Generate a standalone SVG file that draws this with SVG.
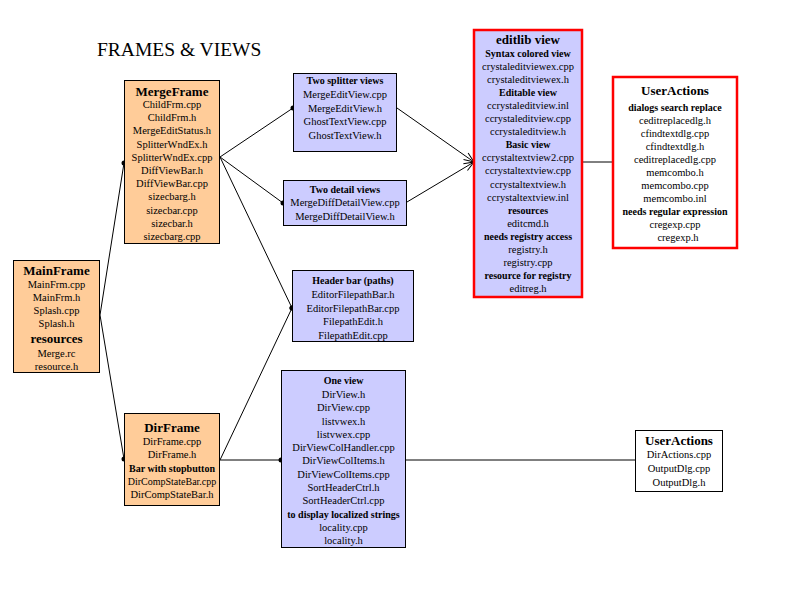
<svg xmlns="http://www.w3.org/2000/svg" width="800" height="600" viewBox="0 0 800 600">
<defs>
<style>
text{font-family:"Liberation Serif","Times New Roman",serif;font-size:10.5px;text-anchor:middle;fill:#000}
.t{font-size:13px;font-weight:bold}
.b{font-size:10px;font-weight:bold}
.s{font-size:10px}
.h{font-size:19.5px;text-anchor:start}
.or{fill:#FFCC99;stroke:#000;stroke-width:1}
.bl{fill:#CCCCFF;stroke:#000;stroke-width:1}
.rd{fill:#CCCCFF;stroke:#FF0000;stroke-width:2.5}
.rw{fill:#FFFFFF;stroke:#FF0000;stroke-width:2.5}
.wh{fill:#FFFFFF;stroke:#000;stroke-width:1}
.c{stroke:#000;stroke-width:1;fill:none}
</style>
<marker id="dot" viewBox="0 0 6 6" refX="3" refY="3" markerWidth="6" markerHeight="6" markerUnits="userSpaceOnUse">
<circle cx="3" cy="3" r="2.5" fill="#000"/>
</marker>
<marker id="open" viewBox="0 0 12 10" refX="11" refY="5" markerWidth="12" markerHeight="10" markerUnits="userSpaceOnUse" orient="auto">
<path d="M1,1 L11,5 L1,9" fill="none" stroke="#000" stroke-width="1"/>
</marker>
</defs>
<rect width="800" height="600" fill="#FFFFFF"/>
<text class="h" x="97" y="56">FRAMES &amp; VIEWS</text>

<g id="connectors">
<line class="c" x1="100" y1="315" x2="124" y2="163" marker-end="url(#dot)"/>
<line class="c" x1="100" y1="315" x2="124" y2="459" marker-end="url(#dot)"/>
<line class="c" x1="220" y1="157" x2="293" y2="108" marker-end="url(#dot)"/>
<line class="c" x1="220" y1="157" x2="283" y2="203" marker-end="url(#dot)"/>
<line class="c" x1="220" y1="157" x2="292" y2="308" marker-end="url(#dot)"/>
<line class="c" x1="220" y1="460" x2="292" y2="308" marker-end="url(#dot)"/>
<line class="c" x1="220" y1="460" x2="281" y2="460" marker-end="url(#dot)"/>
<line class="c" x1="397" y1="108" x2="474" y2="162" marker-end="url(#open)"/>
<line class="c" x1="407" y1="202" x2="474" y2="162" marker-end="url(#open)"/>
<line class="c" x1="582" y1="162" x2="613" y2="162"/>
<line class="c" x1="406" y1="460" x2="635" y2="460"/>
</g>

<g id="MainFrame">
<rect class="or" x="13.5" y="260.5" width="86" height="112"/>
<text class="t" x="56.5" y="275">MainFrame</text>
<text x="56.5" y="288">MainFrm.cpp</text>
<text x="56.5" y="301">MainFrm.h</text>
<text x="56.5" y="314">Splash.cpp</text>
<text x="56.5" y="327">Splash.h</text>
<text class="t" x="56.5" y="343">resources</text>
<text x="56.5" y="357">Merge.rc</text>
<text x="56.5" y="370">resource.h</text>
</g>

<g id="MergeFrame">
<rect class="or" x="124.5" y="80.5" width="95" height="163"/>
<text class="t" x="172" y="96">MergeFrame</text>
<text x="172" y="108">ChildFrm.cpp</text>
<text x="172" y="121.2">ChildFrm.h</text>
<text x="172" y="134.4">MergeEditStatus.h</text>
<text x="172" y="147.6">SplitterWndEx.h</text>
<text x="172" y="160.8">SplitterWndEx.cpp</text>
<text x="172" y="174">DiffViewBar.h</text>
<text x="172" y="187.2">DiffViewBar.cpp</text>
<text x="172" y="200.4">sizecbarg.h</text>
<text x="172" y="213.6">sizecbar.cpp</text>
<text x="172" y="226.8">sizecbar.h</text>
<text x="172" y="240">sizecbarg.cpp</text>
</g>

<g id="DirFrame">
<rect class="or" x="124.5" y="413.5" width="95" height="92"/>
<text class="t" x="172" y="432">DirFrame</text>
<text x="172" y="445">DirFrame.cpp</text>
<text x="172" y="458">DirFrame.h</text>
<text class="b" x="172" y="472">Bar with stopbutton</text>
<text class="s" x="172" y="485">DirCompStateBar.cpp</text>
<text x="172" y="498">DirCompStateBar.h</text>
</g>

<g id="TwoSplitterViews">
<rect class="bl" x="293.5" y="73.5" width="103" height="78"/>
<text class="b" x="345" y="84">Two splitter views</text>
<text x="345" y="98">MergeEditView.cpp</text>
<text x="345" y="111.5">MergeEditView.h</text>
<text x="345" y="125">GhostTextView.cpp</text>
<text x="345" y="138.5">GhostTextView.h</text>
</g>

<g id="TwoDetailViews">
<rect class="bl" x="283.5" y="180.5" width="123" height="45"/>
<text class="b" x="345" y="193">Two detail views</text>
<text x="345" y="206">MergeDiffDetailView.cpp</text>
<text x="345" y="219.5">MergeDiffDetailView.h</text>
</g>

<g id="HeaderBar">
<rect class="bl" x="292.5" y="270.5" width="121" height="71"/>
<text class="b" x="353" y="284">Header bar (paths)</text>
<text x="353" y="298">EditorFilepathBar.h</text>
<text x="353" y="311.5">EditorFilepathBar.cpp</text>
<text x="353" y="325">FilepathEdit.h</text>
<text x="353" y="338.5">FilepathEdit.cpp</text>
</g>

<g id="OneView">
<rect class="bl" x="281.5" y="370.5" width="124" height="177"/>
<text class="b" x="343.5" y="384">One view</text>
<text x="343.5" y="398">DirView.h</text>
<text x="343.5" y="411.2">DirView.cpp</text>
<text x="343.5" y="424.5">listvwex.h</text>
<text x="343.5" y="437.8">listvwex.cpp</text>
<text x="343.5" y="451">DirViewColHandler.cpp</text>
<text x="343.5" y="464.3">DirViewColItems.h</text>
<text x="343.5" y="477.6">DirViewColItems.cpp</text>
<text x="343.5" y="490.9">SortHeaderCtrl.h</text>
<text x="343.5" y="504.2">SortHeaderCtrl.cpp</text>
<text class="b" x="343.5" y="517.5">to display localized strings</text>
<text x="343.5" y="530.8">locality.cpp</text>
<text x="343.5" y="544">locality.h</text>
</g>

<g id="EditlibView">
<rect class="rd" x="474" y="30" width="108" height="267"/>
<text class="t" x="528" y="44">editlib view</text>
<text class="b" x="528" y="56.5">Syntax colored view</text>
<text x="528" y="69.6">crystaleditviewex.cpp</text>
<text x="528" y="82.7">crystaleditviewex.h</text>
<text class="b" x="528" y="95.8">Editable view</text>
<text x="528" y="108.9">ccrystaleditview.inl</text>
<text x="528" y="122">ccrystaleditview.cpp</text>
<text x="528" y="135.1">ccrystaleditview.h</text>
<text class="b" x="528" y="148.2">Basic view</text>
<text x="528" y="161.3">ccrystaltextview2.cpp</text>
<text x="528" y="174.4">ccrystaltextview.cpp</text>
<text x="528" y="187.5">ccrystaltextview.h</text>
<text x="528" y="200.6">ccrystaltextview.inl</text>
<text class="b" x="528" y="213.7">resources</text>
<text x="528" y="226.8">editcmd.h</text>
<text class="b" x="528" y="239.9">needs registry access</text>
<text x="528" y="253">registry.h</text>
<text x="528" y="266.1">registry.cpp</text>
<text class="b" x="528" y="279.2">resource for registry</text>
<text x="528" y="292.3">editreg.h</text>
</g>

<g id="UserActionsEdit">
<rect class="rw" x="613" y="77" width="124" height="171"/>
<text class="t" x="675" y="94.5">UserActions</text>
<text class="b" x="675" y="110.5">dialogs search replace</text>
<text x="675" y="123.5">ceditreplacedlg.h</text>
<text x="675" y="136.5">cfindtextdlg.cpp</text>
<text x="675" y="149.5">cfindtextdlg.h</text>
<text x="675" y="162.5">ceditreplacedlg.cpp</text>
<text x="675" y="175.5">memcombo.h</text>
<text x="675" y="188.5">memcombo.cpp</text>
<text x="675" y="201.5">memcombo.inl</text>
<text class="b" x="675" y="214.5">needs regular expression</text>
<text x="675" y="227.5">cregexp.cpp</text>
<text x="678" y="240.5">cregexp.h</text>
</g>

<g id="UserActionsDir">
<rect class="wh" x="635.5" y="430.5" width="87" height="61"/>
<text class="t" x="679" y="444.5">UserActions</text>
<text x="679" y="457.5">DirActions.cpp</text>
<text x="679" y="471.5">OutputDlg.cpp</text>
<text x="679" y="485.5">OutputDlg.h</text>
</g>
</svg>
